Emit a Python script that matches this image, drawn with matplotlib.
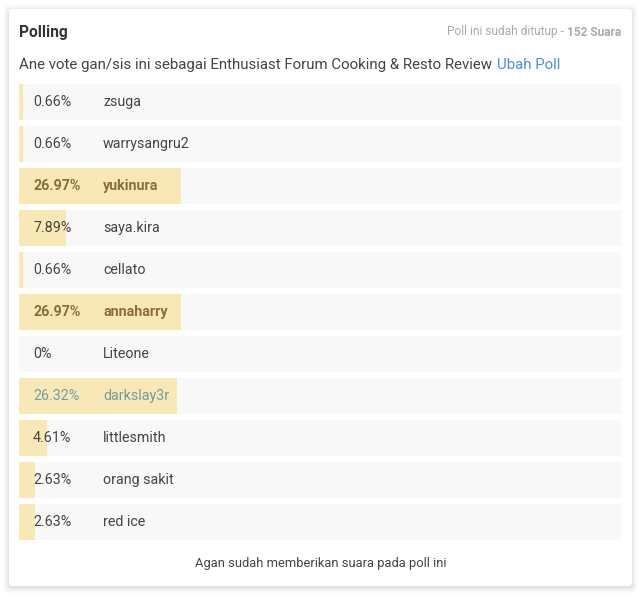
import numpy as np
import matplotlib as mpl
import matplotlib.pyplot as plt
from matplotlib.patches import FancyBboxPatch

mpl.rcParams['font.family'] = ['Roboto', 'DejaVu Sans']

# poll data
names = ['zsuga', 'warrysangru2', 'yukinura', 'saya.kira', 'cellato',
         'annaharry', 'Liteone', 'darkslay3r', 'littlesmith', 'orang sakit',
         'red ice']
percents = [0.66, 0.66, 26.97, 7.89, 0.66, 26.97, 0, 26.32, 4.61, 2.63, 2.63]
pct_labels = ['0.66%', '0.66%', '26.97%', '7.89%', '0.66%', '26.97%', '0%',
              '26.32%', '4.61%', '2.63%', '2.63%']
my_vote = 'darkslay3r'
total_votes = 152

title = 'Polling'
question = 'Ane vote gan/sis ini sebagai Enthusiast Forum Cooking & Resto Review'
footer = 'Agan sudah memberikan suara pada poll ini'

W, H = 643, 599
BAR_COLOR = '#f8e8b6'
ROW_BG = '#f8f8f8'
TEXT = '#444444'
BOLD_TEXT = '#8a6d3b'
MINE = '#6f9ea0'


def px(v):
    return v * 72.0 / 100.0


def main():
    fig = plt.figure(figsize=(W / 100, H / 100), dpi=100)
    fig.patch.set_facecolor('white')

    # card with a soft shadow
    ax_bg = fig.add_axes([0, 0, 1, 1])
    ax_bg.set_xlim(0, W)
    ax_bg.set_ylim(H, 0)
    ax_bg.axis('off')
    for g, a in zip([6, 5, 4, 3, 2, 1], [0.008, 0.012, 0.016, 0.02, 0.025, 0.03]):
        ax_bg.add_patch(FancyBboxPatch((9 - g, 9 - g + 1.5), 623 + 2 * g, 577 + 2 * g,
                                       boxstyle='round,pad=0,rounding_size=5',
                                       fc='black', ec='none', alpha=a))
    ax_bg.add_patch(FancyBboxPatch((9, 9), 623, 577,
                                   boxstyle='round,pad=0,rounding_size=3',
                                   fc='white', ec='none'))

    # bars
    n = len(names)
    half = 18 / 42
    ax = fig.add_axes([19 / W, 1 - 540 / H, 602 / W, 456 / H])
    ax.set_xlim(0, 100)
    ax.set_ylim(n - 1 + half, -half)
    ax.axis('off')
    ax.patch.set_alpha(0)
    y = np.arange(n)
    ax.barh(y, [100] * n, height=2 * half, color=ROW_BG, edgecolor='none')
    widths = [max(p, 0.45) if p > 0 else 0 for p in percents]
    ax.barh(y, widths, height=2 * half, color=BAR_COLOR, edgecolor='none')

    # texts
    ax_t = fig.add_axes([0, 0, 1, 1])
    ax_t.set_xlim(0, W)
    ax_t.set_ylim(H, 0)
    ax_t.axis('off')
    ax_t.patch.set_alpha(0)

    top = max(percents)
    for i in range(n):
        yc = 102 + 42 * i
        if names[i] == my_vote:
            col, wt = MINE, 'normal'
        elif percents[i] == top:
            col, wt = BOLD_TEXT, 'bold'
        else:
            col, wt = TEXT, 'normal'
        ax_t.text(33, yc, pct_labels[i], fontsize=px(14.2), color=col,
                  fontweight=wt, va='center', ha='left')
        ax_t.text(103, yc, names[i], fontsize=px(14.2), color=col,
                  fontweight=wt, va='center', ha='left')

    ax_t.text(19, 32, title, fontsize=px(15.5), fontweight='bold',
              color='#333333', va='center', ha='left')
    q = ax_t.text(19, 65, question, fontsize=px(15), color=TEXT,
                  va='center', ha='left')
    s2 = ax_t.text(621, 32, '%d Suara' % total_votes, fontsize=px(11.9),
                   fontweight='bold', color='#aaaaaa', va='center', ha='right')
    ax_t.text(W / 2 - 1, 563, footer, fontsize=px(12.9), color=TEXT,
              va='center', ha='center')

    fig.canvas.draw()
    r = fig.canvas.get_renderer()
    qx = q.get_window_extent(r).x1
    ax_t.text(qx + 5, 65, 'Ubah Poll', fontsize=px(15), color='#4a8fe0',
              va='center', ha='left')
    sx = s2.get_window_extent(r).x0
    ax_t.text(sx - 3, 32, 'Poll ini sudah ditutup -', fontsize=px(11.9),
              color='#aaaaaa', va='center', ha='right')

    fig.savefig('out.png', dpi=100)


if __name__ == '__main__':
    main()
